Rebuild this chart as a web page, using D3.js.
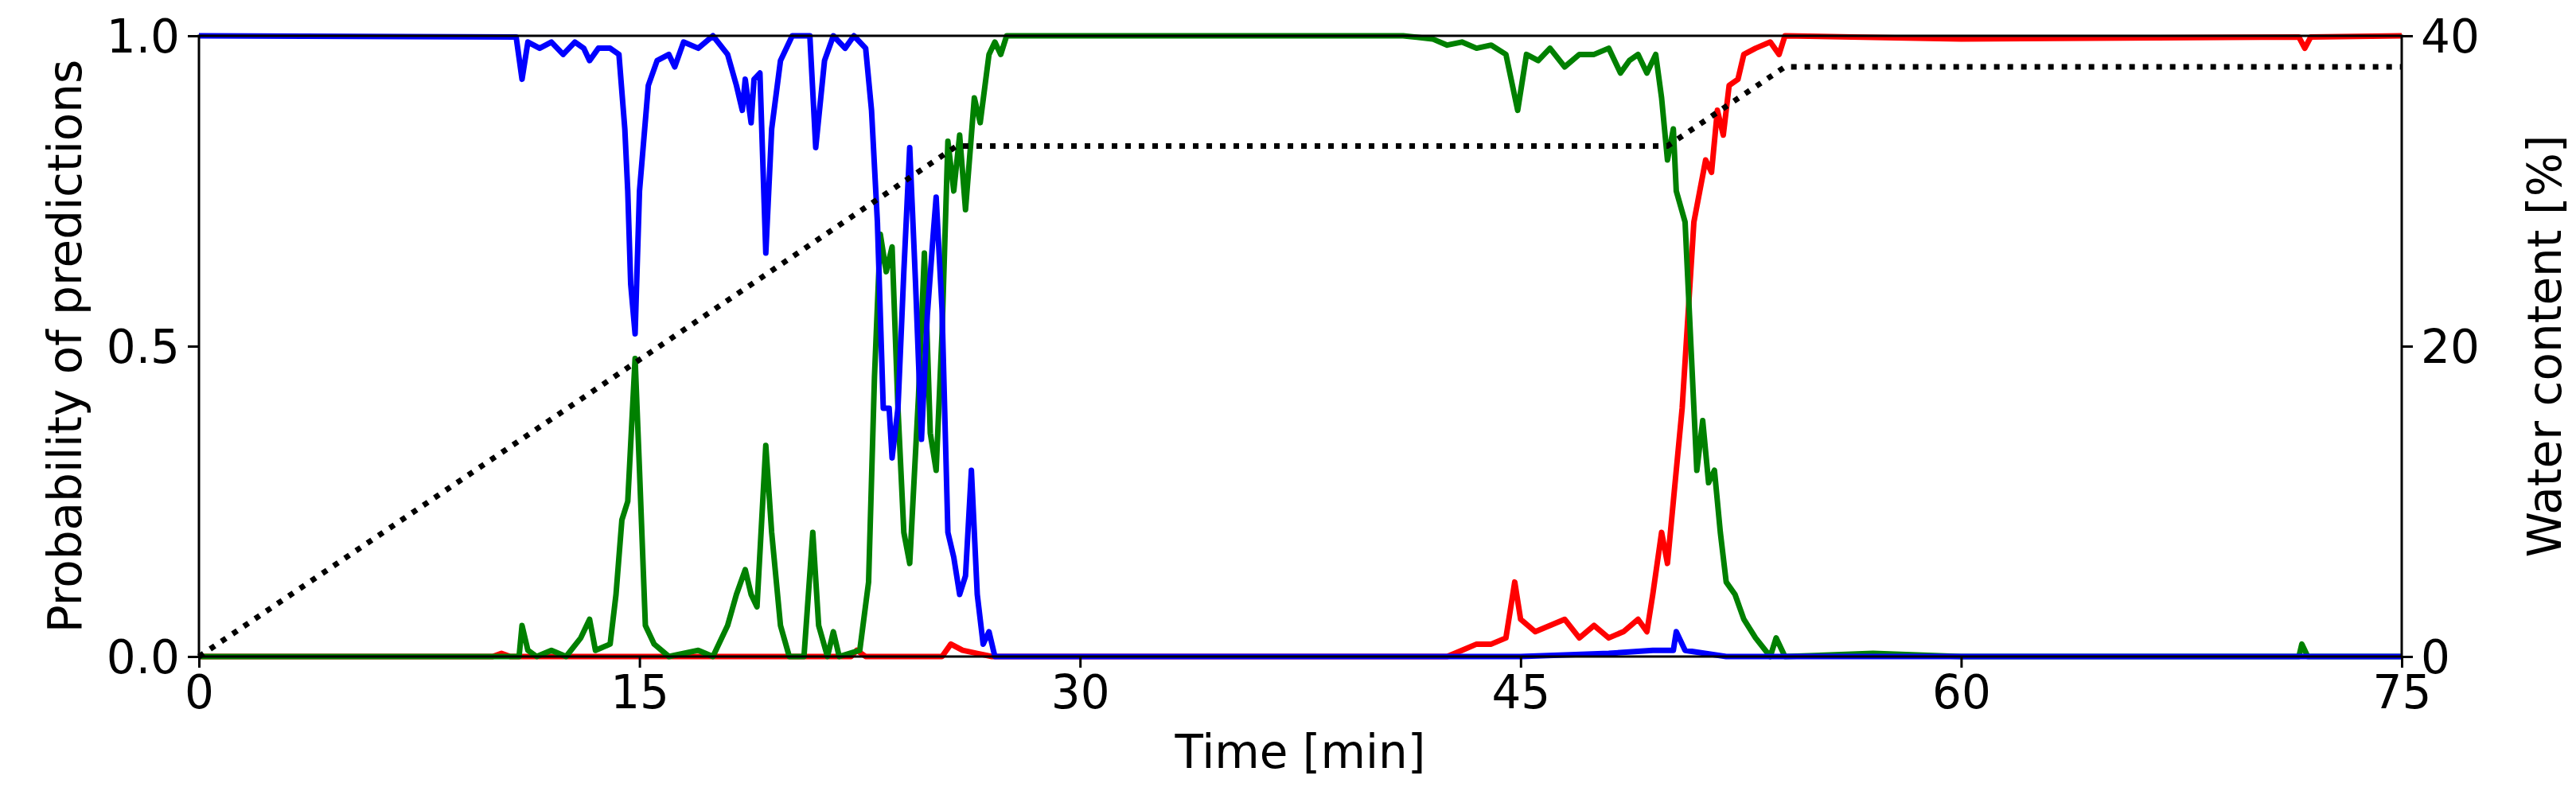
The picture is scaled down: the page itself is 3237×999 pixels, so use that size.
<!DOCTYPE html>
<html>
<head>
<meta charset="utf-8">
<script src="https://cdn.jsdelivr.net/npm/d3@7"></script>
<style>
  body { margin: 0; background: #fff; }
  text { font-family: "DejaVu Sans", sans-serif; }
</style>
</head>
<body>
<div id="chart"></div>
<script>
// time [min] / probability pairs
const blueT = [0, 10.8, 11.0, 11.2, 11.6, 12, 12.4, 12.8, 13.1, 13.3, 13.6, 14, 14.3, 14.5, 14.6, 14.7, 14.85, 15.0, 15.3, 15.6, 16, 16.2, 16.5, 17, 17.5, 18, 18.3, 18.5, 18.6, 18.8, 18.9, 19.1, 19.3, 19.5, 19.8, 20.2, 20.8, 21.0, 21.3, 21.6, 22, 22.3, 22.7, 22.9, 23.1, 23.3, 23.5, 23.6, 23.8, 24.0, 24.2, 24.4, 24.6, 24.8, 25.0, 25.1, 25.3, 25.5, 25.7, 25.9, 26.1, 26.3, 26.5, 26.7, 26.9, 27.1, 45, 48, 49.5, 50.2, 50.3, 50.6, 52, 75];
const blueP = [1.0, 0.998, 0.93, 0.99, 0.98, 0.99, 0.97, 0.99, 0.98, 0.96, 0.98, 0.98, 0.97, 0.85, 0.75, 0.6, 0.52, 0.75, 0.92, 0.96, 0.97, 0.95, 0.99, 0.98, 1.0, 0.97, 0.92, 0.88, 0.93, 0.86, 0.93, 0.94, 0.65, 0.85, 0.96, 1.0, 1.0, 0.82, 0.96, 1.0, 0.98, 1.0, 0.98, 0.88, 0.7, 0.4, 0.4, 0.32, 0.4, 0.62, 0.82, 0.6, 0.35, 0.55, 0.68, 0.74, 0.56, 0.2, 0.16, 0.1, 0.13, 0.3, 0.1, 0.02, 0.04, 0.0, 0.0, 0.005, 0.01, 0.01, 0.04, 0.01, 0.0, 0.0];

const greenT = [0, 10.9, 11.0, 11.2, 11.5, 12, 12.5, 13, 13.3, 13.5, 14, 14.2, 14.4, 14.6, 14.85, 15.0, 15.2, 15.5, 16, 17, 17.5, 18, 18.3, 18.6, 18.8, 19.0, 19.3, 19.5, 19.8, 20.1, 20.6, 20.9, 21.1, 21.4, 21.6, 21.8, 22.5, 22.8, 23.0, 23.2, 23.4, 23.6, 23.8, 24.0, 24.2, 24.5, 24.7, 24.9, 25.1, 25.3, 25.5, 25.7, 25.9, 26.1, 26.4, 26.6, 26.9, 27.1, 27.3, 27.5, 41, 42, 42.5, 43, 43.5, 44, 44.5, 44.9, 45.2, 45.6, 46, 46.5, 47, 47.5, 48, 48.4, 48.7, 49.0, 49.3, 49.6, 49.8, 50.0, 50.2, 50.3, 50.6, 50.8, 51.0, 51.2, 51.4, 51.6, 51.8, 52.0, 52.3, 52.6, 53.0, 53.5, 53.7, 54.0, 57, 60, 71.5, 71.6, 71.8, 75];
const greenP = [0, 0, 0.05, 0.01, 0.0, 0.01, 0.0, 0.03, 0.06, 0.01, 0.02, 0.1, 0.22, 0.25, 0.48, 0.3, 0.05, 0.02, 0.0, 0.01, 0.0, 0.05, 0.1, 0.14, 0.1, 0.08, 0.34, 0.2, 0.05, 0.0, 0.0, 0.2, 0.05, 0.0, 0.04, 0.0, 0.01, 0.12, 0.45, 0.68, 0.62, 0.66, 0.4, 0.2, 0.15, 0.42, 0.65, 0.36, 0.3, 0.52, 0.83, 0.75, 0.84, 0.72, 0.9, 0.86, 0.97, 0.99, 0.97, 1.0, 1.0, 0.995, 0.985, 0.99, 0.98, 0.985, 0.97, 0.88, 0.97, 0.96, 0.98, 0.95, 0.97, 0.97, 0.98, 0.94, 0.96, 0.97, 0.94, 0.97, 0.9, 0.8, 0.85, 0.75, 0.7, 0.5, 0.3, 0.38, 0.28, 0.3, 0.2, 0.12, 0.1, 0.06, 0.03, 0.0, 0.03, 0.0, 0.005, 0.0, 0.0, 0.02, 0.0, 0.0];

const redT = [0, 10, 10.3, 10.6, 22.2, 22.4, 22.7, 25.3, 25.6, 26, 26.5, 27, 42.5, 43, 43.5, 44, 44.5, 44.8, 45, 45.5, 46, 46.5, 47, 47.5, 48, 48.5, 49, 49.3, 49.5, 49.8, 50.0, 50.2, 50.5, 50.7, 50.9, 51.1, 51.3, 51.5, 51.7, 51.9, 52.1, 52.4, 52.6, 53, 53.5, 53.8, 54, 60, 71.5, 71.7, 71.9, 75];
const redP = [0, 0, 0.005, 0, 0, 0.01, 0, 0, 0.02, 0.01, 0.005, 0, 0, 0.01, 0.02, 0.02, 0.03, 0.12, 0.06, 0.04, 0.05, 0.06, 0.03, 0.05, 0.03, 0.04, 0.06, 0.04, 0.1, 0.2, 0.15, 0.25, 0.4, 0.55, 0.7, 0.75, 0.8, 0.78, 0.88, 0.84, 0.92, 0.93, 0.97, 0.98, 0.99, 0.97, 1.0, 0.995, 0.998, 0.98, 0.998, 1.0];

// water content [%]
const waterT = [0, 25.8, 50.0, 54.0, 75];
const waterV = [0, 32.9, 32.9, 38, 38];

const xTicks = [0, 15, 30, 45, 60, 75];
const yTicks = [0, 0.5, 1.0];
const y2Ticks = [0, 20, 40];

const W = 3237, H = 999;
const margin = { top: 45, right: 219, bottom: 174, left: 250 };
const iw = W - margin.left - margin.right;
const ih = H - margin.top - margin.bottom;

const svg = d3.select('#chart').append('svg').attr('width', W).attr('height', H);
const g = svg.append('g').attr('transform', `translate(${margin.left},${margin.top})`);

const x = d3.scaleLinear().domain([0, 75]).range([0, iw]);
const y = d3.scaleLinear().domain([0, 1]).range([ih, 0]);
const y2 = d3.scaleLinear().domain([0, 40]).range([ih, 0]);

g.append('clipPath').attr('id', 'clip').append('rect')
    .attr('x', -4).attr('y', -4).attr('width', iw + 8).attr('height', ih + 8);

const plot = g.append('g').attr('clip-path', 'url(#clip)');

const line = d3.line().x(d => x(d[0])).y(d => y(d[1]));
const series = [
    { t: redT, p: redP, color: '#ff0000' },
    { t: greenT, p: greenP, color: '#008000' },
    { t: blueT, p: blueP, color: '#0000ff' }
];
series.forEach(s => {
    plot.append('path')
        .datum(s.t.map((t, i) => [t, s.p[i]]))
        .attr('fill', 'none')
        .attr('stroke', s.color)
        .attr('stroke-width', 7)
        .attr('stroke-linejoin', 'round')
        .attr('d', line);
});

plot.append('path')
    .datum(waterT.map((t, i) => [t, waterV[i]]))
    .attr('fill', 'none')
    .attr('stroke', '#000')
    .attr('stroke-width', 7)
    .attr('stroke-dasharray', '7,10')
    .attr('d', d3.line().x(d => x(d[0])).y(d => y2(d[1])));

function styleAxis(a) {
    a.select('.domain').remove();
    a.selectAll('.tick line').attr('stroke', '#000').attr('stroke-width', 3);
    a.selectAll('.tick text').attr('font-size', 58).attr('fill', '#000')
        .attr('font-family', '"DejaVu Sans", sans-serif');
}

const fmt = d3.format('.1f');
const ax = g.append('g').attr('transform', `translate(0,${ih})`)
    .call(d3.axisBottom(x).tickValues(xTicks).tickSize(14).tickPadding(10));
styleAxis(ax);
const ay = g.append('g')
    .call(d3.axisLeft(y).tickValues(yTicks).tickFormat(fmt).tickSize(14).tickPadding(10));
styleAxis(ay);
ay.selectAll('.tick text').attr('dy', '0.36em');
const ay2 = g.append('g').attr('transform', `translate(${iw},0)`)
    .call(d3.axisRight(y2).tickValues(y2Ticks).tickSize(14).tickPadding(10));
styleAxis(ay2);
ay2.selectAll('.tick text').attr('dy', '0.36em');

g.append('rect').attr('width', iw).attr('height', ih)
    .attr('fill', 'none').attr('stroke', '#000').attr('stroke-width', 3);

g.append('text').attr('x', iw / 2).attr('y', ih + 140)
    .attr('text-anchor', 'middle').attr('font-size', 58).text('Time [min]');
g.append('text').attr('transform', `translate(${-168},${ih / 2}) rotate(-90)`)
    .attr('text-anchor', 'middle').attr('dy', '0.35em').attr('font-size', 58)
    .text('Probability of predictions');
g.append('text').attr('transform', `translate(${iw + 180},${ih / 2}) rotate(-90)`)
    .attr('text-anchor', 'middle').attr('dy', '0.35em').attr('font-size', 58)
    .text('Water content [%]');
</script>
</body>
</html>
